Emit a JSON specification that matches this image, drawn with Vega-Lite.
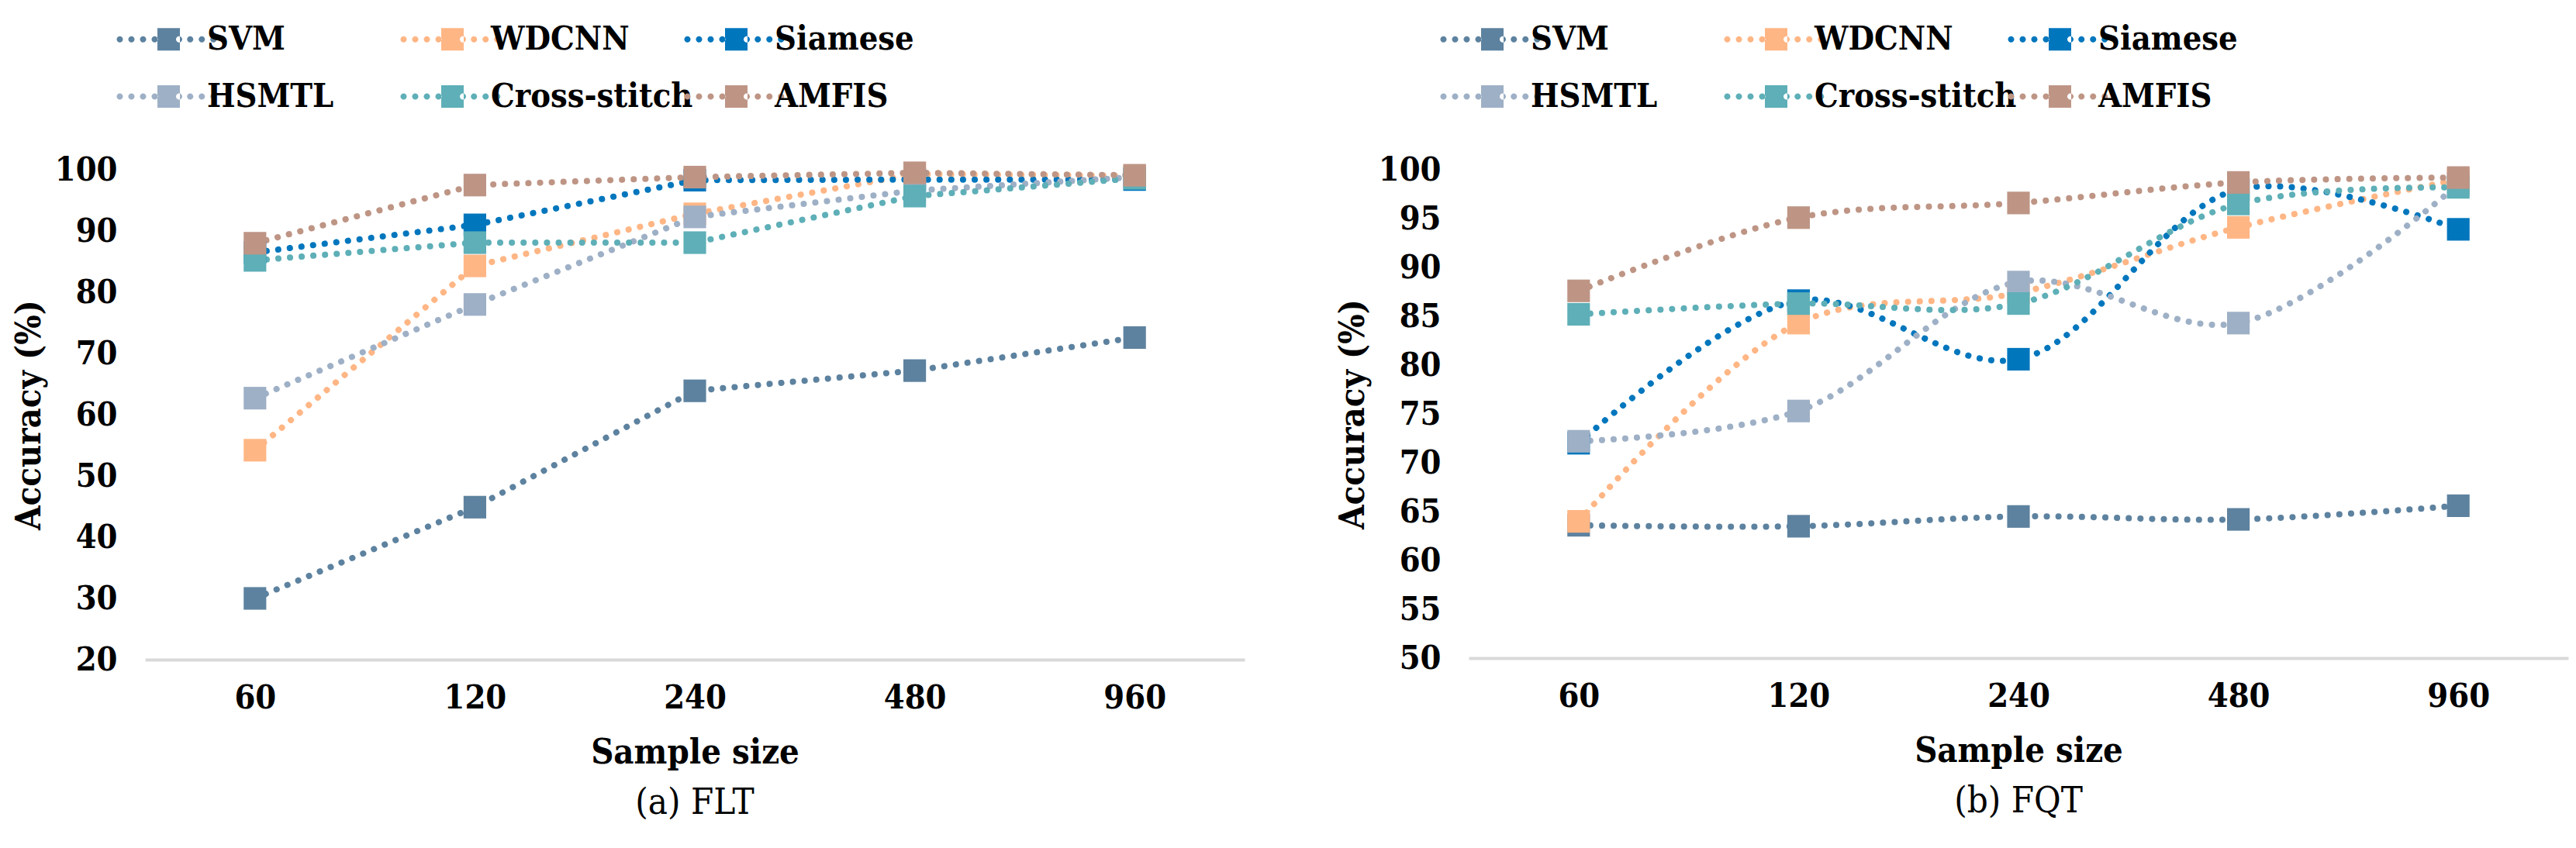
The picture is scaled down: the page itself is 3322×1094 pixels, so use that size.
{
  "$schema": "https://vega.github.io/schema/vega-lite/v6.json",
  "background": "white",
  "padding": {"left": 15, "top": 29, "right": 5, "bottom": 5},
  "datasets": {
    "flt": [
      {"model": "SVM", "size": 60, "acc": 30.0}, {"model": "SVM", "size": 120, "acc": 44.9}, {"model": "SVM", "size": 240, "acc": 63.9}, {"model": "SVM", "size": 480, "acc": 67.2}, {"model": "SVM", "size": 960, "acc": 72.6},
      {"model": "WDCNN", "size": 60, "acc": 54.2}, {"model": "WDCNN", "size": 120, "acc": 84.3}, {"model": "WDCNN", "size": 240, "acc": 92.8}, {"model": "WDCNN", "size": 480, "acc": 99.3}, {"model": "WDCNN", "size": 960, "acc": 99.0},
      {"model": "Siamese", "size": 60, "acc": 86.5}, {"model": "Siamese", "size": 120, "acc": 91.0}, {"model": "Siamese", "size": 240, "acc": 98.3}, {"model": "Siamese", "size": 480, "acc": 98.4}, {"model": "Siamese", "size": 960, "acc": 98.4},
      {"model": "HSMTL", "size": 60, "acc": 62.7}, {"model": "HSMTL", "size": 120, "acc": 78.0}, {"model": "HSMTL", "size": 240, "acc": 92.3}, {"model": "HSMTL", "size": 480, "acc": 96.6}, {"model": "HSMTL", "size": 960, "acc": 98.8},
      {"model": "Cross-stitch", "size": 60, "acc": 85.2}, {"model": "Cross-stitch", "size": 120, "acc": 88.1}, {"model": "Cross-stitch", "size": 240, "acc": 88.1}, {"model": "Cross-stitch", "size": 480, "acc": 95.7}, {"model": "Cross-stitch", "size": 960, "acc": 98.6},
      {"model": "AMFIS", "size": 60, "acc": 88.0}, {"model": "AMFIS", "size": 120, "acc": 97.5}, {"model": "AMFIS", "size": 240, "acc": 98.8}, {"model": "AMFIS", "size": 480, "acc": 99.5}, {"model": "AMFIS", "size": 960, "acc": 99.1}
    ],
    "fqt": [
      {"model": "SVM", "size": 60, "acc": 63.6}, {"model": "SVM", "size": 120, "acc": 63.5}, {"model": "SVM", "size": 240, "acc": 64.5}, {"model": "SVM", "size": 480, "acc": 64.2}, {"model": "SVM", "size": 960, "acc": 65.6},
      {"model": "WDCNN", "size": 60, "acc": 64.0}, {"model": "WDCNN", "size": 120, "acc": 84.3}, {"model": "WDCNN", "size": 240, "acc": 87.4}, {"model": "WDCNN", "size": 480, "acc": 94.1}, {"model": "WDCNN", "size": 960, "acc": 99.0},
      {"model": "Siamese", "size": 60, "acc": 72.0}, {"model": "Siamese", "size": 120, "acc": 86.6}, {"model": "Siamese", "size": 240, "acc": 80.6}, {"model": "Siamese", "size": 480, "acc": 98.0}, {"model": "Siamese", "size": 960, "acc": 93.9},
      {"model": "HSMTL", "size": 60, "acc": 72.2}, {"model": "HSMTL", "size": 120, "acc": 75.3}, {"model": "HSMTL", "size": 240, "acc": 88.5}, {"model": "HSMTL", "size": 480, "acc": 84.3}, {"model": "HSMTL", "size": 960, "acc": 98.5},
      {"model": "Cross-stitch", "size": 60, "acc": 85.2}, {"model": "Cross-stitch", "size": 120, "acc": 86.3}, {"model": "Cross-stitch", "size": 240, "acc": 86.3}, {"model": "Cross-stitch", "size": 480, "acc": 96.5}, {"model": "Cross-stitch", "size": 960, "acc": 98.2},
      {"model": "AMFIS", "size": 60, "acc": 87.6}, {"model": "AMFIS", "size": 120, "acc": 95.1}, {"model": "AMFIS", "size": 240, "acc": 96.6}, {"model": "AMFIS", "size": 480, "acc": 98.7}, {"model": "AMFIS", "size": 960, "acc": 99.2}
    ]
  },
  "hconcat": [
    {
      "width": 1418,
      "height": 632,
      "data": {"name": "flt"},
      "title": {"text": "(a) FLT", "orient": "bottom", "font": "DejaVu Serif Condensed, DejaVu Serif", "fontSize": 47, "fontWeight": "normal", "color": "black", "offset": 20},
      "encoding": {
        "x": {"field": "size", "type": "ordinal", "scale": {"type": "point", "padding": 0.5}, "axis": {"title": "Sample size"}},
        "y": {"field": "acc", "type": "quantitative", "scale": {"domain": [20, 100], "nice": false, "zero": false}, "axis": {"title": "Accuracy (%)", "values": [20, 30, 40, 50, 60, 70, 80, 90, 100]}},
        "color": {"field": "model", "type": "nominal", "scale": {"domain": ["SVM", "WDCNN", "Siamese", "HSMTL", "Cross-stitch", "AMFIS"], "range": ["#5D829F", "#FFB685", "#0076BD", "#9EB0C6", "#5EAFB7", "#BE9585"]},
          "legend": {"orient": "none", "direction": "horizontal", "legendX": 9, "legendY": -190, "columns": 3, "title": null, "gridAlign": "all", "columnPadding": -12}}
      },
      "layer": [
        {"mark": {"type": "line", "strokeWidth": 8, "strokeDash": [0.1, 15], "strokeCap": "round", "interpolate": "linear"}},
        {"mark": {"type": "point", "shape": "square", "filled": true, "size": 850, "opacity": 1}}
      ]
    },
    {
      "width": 1418,
      "height": 630,
      "data": {"name": "fqt"},
      "title": {"text": "(b) FQT", "orient": "bottom", "font": "DejaVu Serif Condensed, DejaVu Serif", "fontSize": 47, "fontWeight": "normal", "color": "black", "offset": 20},
      "encoding": {
        "x": {"field": "size", "type": "ordinal", "scale": {"type": "point", "padding": 0.5}, "axis": {"title": "Sample size"}},
        "y": {"field": "acc", "type": "quantitative", "scale": {"domain": [50, 100], "nice": false, "zero": false}, "axis": {"title": "Accuracy (%)", "values": [50, 55, 60, 65, 70, 75, 80, 85, 90, 95, 100]}},
        "color": {"field": "model", "type": "nominal", "scale": {"domain": ["SVM", "WDCNN", "Siamese", "HSMTL", "Cross-stitch", "AMFIS"], "range": ["#5D829F", "#FFB685", "#0076BD", "#9EB0C6", "#5EAFB7", "#BE9585"]},
          "legend": {"orient": "none", "direction": "horizontal", "legendX": 9, "legendY": -190, "columns": 3, "title": null, "gridAlign": "all", "columnPadding": -12}}
      },
      "layer": [
        {"mark": {"type": "line", "strokeWidth": 8, "strokeDash": [0.1, 15], "strokeCap": "round", "interpolate": "catmull-rom"}},
        {"mark": {"type": "point", "shape": "square", "filled": true, "size": 850, "opacity": 1}}
      ]
    }
  ],
  "spacing": 117,
  "resolve": {"scale": {"color": "independent", "x": "independent", "y": "independent"}, "legend": {"color": "independent"}},
  "config": {
    "view": {"stroke": null},
    "axis": {
      "labelFont": "DejaVu Serif Condensed, DejaVu Serif", "labelFontSize": 43, "labelFontWeight": "bold", "labelColor": "black",
      "titleFont": "DejaVu Serif Condensed, DejaVu Serif", "titleFontSize": 45, "titleFontWeight": "bold", "titleColor": "black",
      "ticks": false, "grid": false
    },
    "axisX": {"domainColor": "#D9D9D9", "domainWidth": 4, "labelPadding": 28, "titlePadding": 26, "labelAngle": 0},
    "axisY": {"domain": false, "labelPadding": 36, "titlePadding": 10},
    "legend": {
      "labelFont": "DejaVu Serif Condensed, DejaVu Serif", "labelFontSize": 43, "labelFontWeight": "bold", "labelColor": "black", "labelLimit": 500,
      "symbolType": "M-0.967,-0.967H0.967V0.967H-0.967Z M-4.47,0a0.27,0.27 0 1,0 0.54,0a0.27,0.27 0 1,0 -0.54,0Z M-3.47,0a0.27,0.27 0 1,0 0.54,0a0.27,0.27 0 1,0 -0.54,0Z M-2.47,0a0.27,0.27 0 1,0 0.54,0a0.27,0.27 0 1,0 -0.54,0Z M-1.47,0a0.27,0.27 0 1,0 0.54,0a0.27,0.27 0 1,0 -0.54,0Z M0.63,0a0.27,0.27 0 1,0 0.54,0a0.27,0.27 0 1,0 -0.54,0Z M1.58,0a0.27,0.27 0 1,0 0.54,0a0.27,0.27 0 1,0 -0.54,0Z M2.58,0a0.27,0.27 0 1,0 0.54,0a0.27,0.27 0 1,0 -0.54,0Z M3.58,0a0.27,0.27 0 1,0 0.54,0a0.27,0.27 0 1,0 -0.54,0Z",
      "symbolSize": 900, "symbolStrokeWidth": 0, "symbolOpacity": 1,
      "labelOffset": 28, "rowPadding": 30, "padding": 0
    }
  }
}
